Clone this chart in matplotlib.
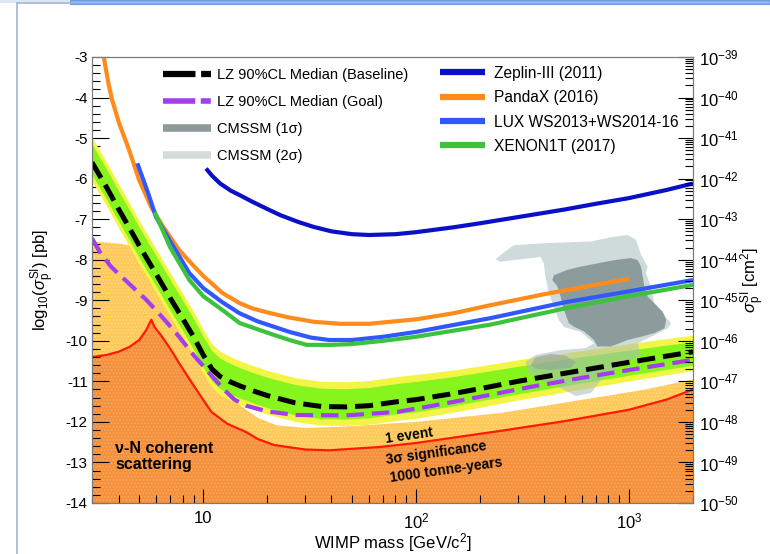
import numpy as np
import matplotlib
matplotlib.use('Agg')
import matplotlib.pyplot as plt
from matplotlib.lines import Line2D
from matplotlib.patches import Polygon, Rectangle
from matplotlib.ticker import MultipleLocator, LogLocator, NullFormatter

plt.rcParams['font.family'] = ['Liberation Sans', 'DejaVu Sans']
plt.rcParams['mathtext.fontset'] = 'custom'
plt.rcParams['mathtext.rm'] = 'Liberation Sans'
plt.rcParams['mathtext.it'] = 'Liberation Sans:italic'
plt.rcParams['mathtext.bf'] = 'Liberation Sans:bold'
plt.rcParams['hatch.linewidth'] = 0.6

# ---- data (mass in GeV, log10 sigma in pb) ----
lz_mass = [3, 3.5, 4, 4.5, 5, 5.5, 6, 7, 8, 9, 10, 11, 12, 13.5, 15, 17.5, 20, 27, 36, 47,
           60, 82, 100, 150, 200, 300, 500, 1000, 2000]
lz_base = [-5.6, -6.2, -6.75, -7.22, -7.65, -8.02, -8.35, -8.95, -9.45, -9.9, -10.35, -10.7,
           -10.88, -11.02, -11.12, -11.25, -11.35, -11.53, -11.62, -11.63, -11.6, -11.5,
           -11.45, -11.3, -11.18, -11.0, -10.8, -10.53, -10.27]
lz_1s_hi = [-5.15, -5.75, -6.3, -6.77, -7.2, -7.57, -7.9, -8.5, -9.0, -9.45, -9.9, -10.25,
            -10.43, -10.57, -10.67, -10.8, -10.9, -11.08, -11.17, -11.18, -11.15, -11.05,
            -11.0, -10.88, -10.78, -10.63, -10.45, -10.23, -10.02]
lz_1s_lo = [-5.9, -6.5, -7.05, -7.52, -7.95, -8.32, -8.65, -9.25, -9.75, -10.2, -10.65, -11.0,
            -11.18, -11.32, -11.42, -11.55, -11.65, -11.83, -11.92, -11.93, -11.9, -11.8,
            -11.75, -11.6, -11.48, -11.31, -11.11, -10.85, -10.6]
lz_2s_hi = [-4.98, -5.58, -6.13, -6.6, -7.03, -7.4, -7.73, -8.33, -8.83, -9.28, -9.73, -10.08,
            -10.26, -10.4, -10.5, -10.63, -10.73, -10.91, -11.0, -11.01, -10.98, -10.88,
            -10.83, -10.72, -10.62, -10.47, -10.3, -10.07, -9.86]
lz_2s_lo = [-6.06, -6.66, -7.21, -7.68, -8.11, -8.48, -8.81, -9.41, -9.91, -10.36, -10.81,
            -11.16, -11.34, -11.48, -11.58, -11.71, -11.81, -11.99, -12.08, -12.09, -12.06,
            -11.96, -11.91, -11.76, -11.64, -11.46, -11.26, -10.99, -10.73]

goal_mass = [3, 3.3, 3.7, 4.5, 5.4, 6.5, 7.7, 9, 10.9, 12.5, 14, 15.9, 20, 27, 47, 82, 120,
             200, 350, 590, 1000, 2000]
goal_val = [-7.47, -7.85, -8.18, -8.6, -8.99, -9.45, -9.9, -10.35, -10.85, -11.2, -11.45,
            -11.6, -11.74, -11.83, -11.84, -11.75, -11.6, -11.38, -11.13, -10.92, -10.72,
            -10.47]

zep_mass = [10.3, 11, 12, 13.5, 15, 17, 20, 23, 28, 33, 40, 50, 60, 80, 100, 150, 200, 300,
            500, 700, 1000, 1500, 2000]
zep_val = [-5.75, -5.93, -6.12, -6.3, -6.42, -6.57, -6.75, -6.9, -7.07, -7.19, -7.3, -7.37,
           -7.39, -7.37, -7.32, -7.2, -7.1, -6.95, -6.76, -6.62, -6.48, -6.28, -6.12]

pandax_mass = [3.41, 3.47, 3.6, 3.73, 4.02, 4.48, 4.99, 5.69, 6.5, 7.7, 9, 10, 12.3, 14.8,
               17, 20, 25, 33, 43.8, 60, 100, 150, 224, 400, 1000]
pandax_val = [-3.0, -3.24, -3.7, -4.06, -4.63, -5.29, -6.03, -6.7, -7.2, -7.76, -8.15, -8.4,
              -8.82, -9.07, -9.2, -9.3, -9.42, -9.53, -9.58, -9.58, -9.47, -9.32, -9.12,
              -8.85, -8.47]

lux_mass = [4.9, 5.5, 6, 7, 8.6, 10, 12.3, 14.8, 18, 25.4, 32, 39, 50, 70, 100, 224, 500,
            1000, 2000]
lux_val = [-5.62, -6.35, -6.95, -7.55, -8.33, -8.7, -9.05, -9.32, -9.52, -9.78, -9.92, -9.98,
           -9.98, -9.9, -9.78, -9.44, -9.05, -8.78, -8.5]

xe_mass = [5.9, 7, 8.6, 10, 12.3, 14.8, 20, 25.4, 30.6, 40, 50, 70, 100, 224, 500, 1000, 2000]
xe_val = [-6.82, -7.7, -8.5, -8.9, -9.24, -9.56, -9.8, -9.98, -10.1, -10.1, -10.08, -10.0,
          -9.9, -9.6, -9.2, -8.9, -8.62]

# neutrino floor: 1 event (light) and 3 sigma / 1000 t-y (red line, dark)
nu1_mass = [3, 4, 5, 5.8, 6.0, 6.3, 7, 8, 10, 12, 15, 18, 22, 30, 45, 100, 250, 700, 1200, 2000]
nu1_val = [-7.55, -7.6, -7.68, -7.75, -8.0, -8.4, -9.2, -9.8, -10.6, -11.1, -11.6, -11.9,
           -12.08, -12.15, -12.12, -12.0, -11.78, -11.4, -11.2, -10.95]
nu3_mass = [3, 3.5, 4, 4.5, 5, 5.4, 5.7, 5.9, 6.3, 6.7, 7.2, 7.7, 8.5, 9.3, 10.9, 13, 15.9,
            18, 21.5, 30, 39, 67, 100, 250, 500, 1000, 1500, 2000]
nu3_val = [-10.4, -10.35, -10.27, -10.15, -9.98, -9.73, -9.48, -9.66, -9.85, -10.05, -10.3,
           -10.55, -10.9, -11.21, -11.75, -12.05, -12.25, -12.42, -12.57, -12.68, -12.7,
           -12.62, -12.52, -12.22, -11.98, -11.7, -11.45, -11.2]

# CMSSM contours (log10 mass, log10 sigma)
cmssm_2s = [(2.373, -7.99), (2.428, -7.76), (2.459, -7.64), (2.616, -7.59), (2.821, -7.55),
            (2.931, -7.43), (2.994, -7.39), (3.033, -7.51), (3.057, -7.88), (3.088, -8.17),
            (3.080, -8.33), (3.104, -8.66), (3.119, -9.07), (3.159, -9.32), (3.198, -9.57),
            (3.183, -9.69), (3.119, -9.86), (3.041, -10.06), (3.057, -10.35), (2.962, -10.6),
            (2.868, -10.97), (2.821, -11.29), (2.750, -11.36), (2.679, -11.16), (2.585, -10.97),
            (2.528, -10.77), (2.514, -10.52), (2.561, -10.35), (2.679, -10.23), (2.797, -10.18),
            (2.836, -10.06), (2.774, -9.78), (2.695, -9.66), (2.671, -9.49), (2.648, -9.17),
            (2.624, -8.82), (2.608, -8.43), (2.600, -8.09), (2.585, -7.93), (2.538, -7.96),
            (2.396, -8.05)]
cmssm_1s = [(2.648, -8.38), (2.711, -8.25), (2.774, -8.17), (2.852, -8.09), (2.931, -8.01),
            (3.009, -7.96), (3.041, -8.01), (3.057, -8.17), (3.065, -8.42), (3.072, -8.66),
            (3.088, -8.91), (3.119, -9.07), (3.159, -9.28), (3.175, -9.49), (3.167, -9.69),
            (3.119, -9.81), (3.057, -9.90), (2.994, -9.98), (2.915, -10.14), (2.852, -10.14),
            (2.836, -9.98), (2.789, -9.77), (2.742, -9.65), (2.718, -9.57), (2.695, -9.24),
            (2.679, -8.91), (2.664, -8.66), (2.640, -8.50)]
cmssm_1s_low = [(2.538, -10.60), (2.561, -10.40), (2.632, -10.32), (2.703, -10.37),
                (2.750, -10.52), (2.726, -10.67), (2.632, -10.72), (2.561, -10.69)]

right_exp = list(range(-50, -38))

fig = plt.figure(figsize=(7.7, 5.54), dpi=100)
ax = fig.add_axes([92/770, 1-503/554, 601/770, 446/554])
ax.set_xscale('log')
ax.set_xlim(3, 2000)
ax.set_ylim(-14, -3)

# neutrino background regions
ax.fill_between(nu1_mass, -14, nu1_val, facecolor='#ffc95a', edgecolor='#ffdc8c',
                hatch='.....', linewidth=0, zorder=1)
ax.fill_between(nu3_mass, -14, nu3_val, facecolor='#f5913c', edgecolor='#f9ad6a',
                hatch='.....', linewidth=0, zorder=1.1)
ax.plot(nu3_mass, nu3_val, color='#ff1a00', lw=1.6, zorder=1.2)

# LZ sensitivity bands
ax.fill_between(lz_mass, lz_2s_lo, lz_2s_hi, color='#f2f545', lw=0, zorder=2)
ax.fill_between(lz_mass, lz_1s_lo, lz_1s_hi, color='#86f51e', lw=0, zorder=2.1)

# CMSSM
def cmssm_patch(pts, color):
    xy = [(10**lm, v) for lm, v in pts]
    return Polygon(xy, closed=True, facecolor=color, edgecolor='none', alpha=0.55, zorder=3)

ax.add_patch(cmssm_patch(cmssm_2s, '#a9bcbc'))
ax.add_patch(cmssm_patch(cmssm_1s, '#56696a'))
ax.add_patch(cmssm_patch(cmssm_1s_low, '#8fa0a0'))

# experimental limits
ax.plot(zep_mass, zep_val, color='#0a0fc8', lw=3, zorder=4, solid_capstyle='butt')
ax.plot(pandax_mass, pandax_val, color='#ff8c1a', lw=3, zorder=4, solid_capstyle='butt')
ax.plot(lux_mass, lux_val, color='#3158ff', lw=3, zorder=4, solid_capstyle='butt')
ax.plot(xe_mass, xe_val, color='#3cc23c', lw=3, zorder=4, solid_capstyle='butt')

# LZ projections
ax.plot(lz_mass, lz_base, color='black', lw=3.6, dashes=(3.6, 1.6), zorder=5)
ax.plot(goal_mass, goal_val, color='#a23ef0', lw=3.0, dashes=(4.2, 1.9), zorder=5)

# annotations
ax.text(3.85, -12.85, 'ν-N coherent\nscattering', fontsize=11.5, fontweight='bold',
        va='center', ha='left', linespacing=1.05, zorder=6)
for m, v, s in [(92.7, -12.35, '1 event'), (124, -12.77, '3σ significance'),
                (139, -13.18, '1000 tonne-years')]:
    ax.text(m, v, s, fontsize=10, fontweight='bold', rotation=8, ha='center',
            va='center', rotation_mode='anchor', zorder=6)

# legends
leg1_handles = [
    Line2D([], [], color='black', lw=4.5, dashes=(5.2, 0.9, 1.6, 0.9)),
    Line2D([], [], color='#a23ef0', lw=4.0, dashes=(5.8, 1.0, 1.8, 1.0)),
    Line2D([], [], color='#8e9a9a', lw=5.5, solid_capstyle='butt'),
    Line2D([], [], color='#d2dcdc', lw=5.5, solid_capstyle='butt'),
]
leg1_labels = ['LZ 90%CL Median (Baseline)', 'LZ 90%CL Median (Goal)',
               'CMSSM (1σ)', 'CMSSM (2σ)']
leg1 = ax.legend(leg1_handles, leg1_labels, loc='upper left', bbox_to_anchor=(0.118, 0.975),
                 frameon=False, fontsize=10.5, handlelength=3.3, handletextpad=0.4,
                 labelspacing=0.88, borderpad=0, borderaxespad=0)
ax.add_artist(leg1)
leg2_handles = [
    Line2D([], [], color='#0a0fc8', lw=4.5, solid_capstyle='butt'),
    Line2D([], [], color='#ff8c1a', lw=4.5, solid_capstyle='butt'),
    Line2D([], [], color='#3158ff', lw=4.5, solid_capstyle='butt'),
    Line2D([], [], color='#3cc23c', lw=4.5, solid_capstyle='butt'),
]
leg2_labels = ['Zeplin-III (2011)', 'PandaX (2016)', 'LUX WS2013+WS2014-16', 'XENON1T (2017)']
ax.legend(leg2_handles, leg2_labels, loc='upper left', bbox_to_anchor=(0.579, 0.98),
          frameon=False, fontsize=11.2, handlelength=2.9, handletextpad=0.6,
          labelspacing=0.6, borderpad=0, borderaxespad=0)

# axes styling
for sp in ax.spines.values():
    sp.set_color('#7a7a7a')
    sp.set_zorder(7)
ax.yaxis.set_minor_locator(MultipleLocator(0.2))
ax.set_yticks(range(-14, -2))
ax.set_yticklabels([str(v) for v in range(-14, -2)])
ax.xaxis.set_minor_locator(LogLocator(base=10, subs=np.arange(2, 10), numticks=20))
ax.xaxis.set_minor_formatter(NullFormatter())
ax.set_xticks([10, 100, 1000])
ax.set_xticklabels(['10', '10$^2$', '10$^3$'])
ax.tick_params(axis='y', which='major', direction='in', length=12, width=0.8,
               labelsize=11, pad=3, right=False)
ax.tick_params(axis='y', which='minor', direction='in', length=6, width=0.8, right=False)
ax.tick_params(axis='x', which='major', direction='in', length=10, width=0.8,
               labelsize=12, pad=6, top=False)
ax.tick_params(axis='x', which='minor', direction='in', length=5.5, width=0.8, top=False)

ax2 = ax.twinx()
ax2.set_yscale('log')
ax2.set_ylim(1e-50, 1e-39)
ax2.yaxis.set_minor_locator(LogLocator(base=10, subs=np.arange(2, 10), numticks=15))
ax2.yaxis.set_minor_formatter(NullFormatter())
ax2.set_yticks([10.0**e for e in right_exp])
ax2.set_yticklabels(['10$^{%d}$' % e for e in right_exp])
ax2.set_ylim(1e-50, 1e-39)
ax2.tick_params(axis='y', which='major', direction='in', length=11, width=0.8,
                labelsize=12, pad=4)
ax2.tick_params(axis='y', which='minor', direction='in', length=5.5, width=0.8)
for sp in ax2.spines.values():
    sp.set_color('#7a7a7a')

ax.set_xlabel('WIMP mass [GeV/c$^2$]', fontsize=12, labelpad=0)
ax.set_ylabel(r'log$_{10}$($\sigma_{\rm p}^{\rm SI}$) [pb]', fontsize=12, labelpad=6)
ax2.set_ylabel(r'$\sigma_{\rm p}^{\rm SI}$ [cm$^2$]', fontsize=12, labelpad=0)

# screenshot window frame
fig.patches.append(Rectangle((0, 551/554), 70/770, 3/554, transform=fig.transFigure,
                             facecolor='#dce6f4', edgecolor='none'))
fig.patches.append(Rectangle((70/770, 550/554), 700/770, 4/554, transform=fig.transFigure,
                             facecolor='#8db4ec', edgecolor='#6f9ad8', lw=0.8))
fig.lines.append(Line2D([17/770, 17/770], [0, 551/554], transform=fig.transFigure,
                        color='#9db6dc', lw=1.2))
fig.lines.append(Line2D([17/770, 70/770], [551/554, 551/554], transform=fig.transFigure,
                        color='#9db6dc', lw=1.2))

fig.savefig('out.png', dpi=100)
